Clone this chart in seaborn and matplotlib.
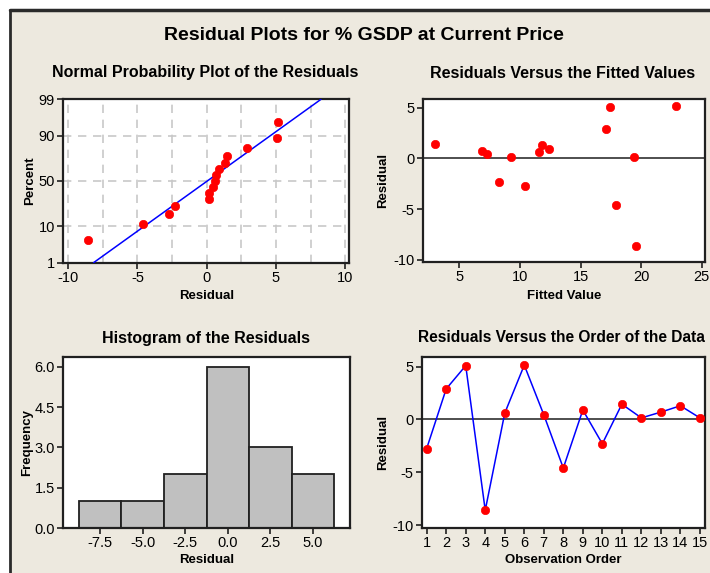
import matplotlib
matplotlib.use("Agg")
import matplotlib.pyplot as plt
import seaborn as sns
import numpy as np
from statistics import NormalDist
from matplotlib.patches import Rectangle
from matplotlib.lines import Line2D

# residuals in observation order, and the fitted value of each observation
obs_order = list(range(1, 16))
residuals = [-2.75, 2.9, 5.1, -8.6, 0.6, 5.15, 0.45, -4.6, 0.9, -2.3, 1.45, 0.15, 0.7, 1.3, 0.15]
fitted = [10.4, 17.1, 17.4, 19.6, 11.6, 22.9, 7.25, 17.95, 12.4, 8.3, 3.0, 9.3, 6.85, 11.8, 19.4]

prob_ticks = [1, 10, 50, 90, 99]
hist_edges = [-8.75, -6.25, -3.75, -1.25, 1.25, 3.75, 6.25]
hist_ticks = [-7.5, -5.0, -2.5, 0.0, 2.5, 5.0]
freq_ticks = [0.0, 1.5, 3.0, 4.5, 6.0]

BG = "#EDE9DF"
FONT = ["Liberation Sans", "DejaVu Sans"]

sns.set_style("white")
plt.rcParams["font.family"] = FONT
plt.rcParams["axes.unicode_minus"] = False
plt.rcParams["text.color"] = "black"
plt.rcParams["axes.labelcolor"] = "black"
plt.rcParams["axes.edgecolor"] = "#202020"
plt.rcParams["axes.linewidth"] = 1.6
plt.rcParams["xtick.major.size"] = 4
plt.rcParams["ytick.major.size"] = 4
plt.rcParams["xtick.major.width"] = 1.2
plt.rcParams["ytick.major.width"] = 1.2
plt.rcParams["xtick.direction"] = "out"
plt.rcParams["ytick.direction"] = "out"
plt.rcParams["xtick.bottom"] = True
plt.rcParams["ytick.left"] = True

W, H = 710, 573
fig = plt.figure(figsize=(W / 100, H / 100), dpi=100)
fig.patch.set_facecolor("white")

# beige graph window with dark top/left border
fig.patches.append(Rectangle((9.5 / W, 0), 1, 1 - 9.5 / H, transform=fig.transFigure,
                             facecolor=BG, edgecolor="none", zorder=-10))
fig.lines.append(Line2D([9.5 / W, 1], [1 - 9.5 / H, 1 - 9.5 / H], transform=fig.transFigure,
                        color="#2a2a2a", lw=2.5))
fig.lines.append(Line2D([9.5 / W, 9.5 / W], [0, 1 - 9.5 / H], transform=fig.transFigure,
                        color="#2a2a2a", lw=2))


def px_axes(left, top, right, bottom):
    return fig.add_axes([left / W, 1 - bottom / H, (right - left) / W, (bottom - top) / H])


def style(ax):
    ax.set_facecolor("white")
    for s in ax.spines.values():
        s.set_visible(True)
        s.set_color("#202020")
    ax.tick_params(labelsize=10.5, pad=2, colors="#202020", labelcolor="black")


def ftitle(x, y, txt, size=11.5):
    fig.text(x / W, 1 - y / H, txt, ha="center", va="center", fontsize=size,
             fontweight="bold", family=FONT)


def labels(ax, xl, yl, xpos, ypos):
    ax.set_xlabel(xl, fontsize=9.5, fontweight="bold")
    ax.set_ylabel(yl, fontsize=9.5, fontweight="bold")
    ax.xaxis.label.set_va("center")
    ax.yaxis.label.set_va("center")
    ax.xaxis.set_label_coords(0.5, xpos)
    ax.yaxis.set_label_coords(ypos, 0.5)


dot_kw = dict(color="red", s=36, edgecolor="red", linewidth=0.5, zorder=5)

# --- Normal probability plot ---
ax1 = px_axes(63.3, 99.3, 349.3, 262.7)
style(ax1)
nd = NormalDist()
n = len(residuals)
sorted_res = np.sort(residuals)
z = [nd.inv_cdf((i - 0.3) / (n + 0.4)) for i in range(1, n + 1)]
mu, sd = np.mean(residuals), np.std(residuals, ddof=1)
zlo, zhi = nd.inv_cdf(0.01), nd.inv_cdf(0.99)
zline = np.linspace(zlo, zhi, 50)
for xv in np.arange(-10, 10.1, 2.5):
    ax1.axvline(xv, color="#c8c8c8", lw=1.2, ls=(0, (5, 4)), zorder=0)
for p in prob_ticks:
    ax1.axhline(nd.inv_cdf(p / 100), color="#c8c8c8", lw=1.2, ls=(0, (5, 4)), zorder=0)
sns.lineplot(x=mu + sd * zline, y=zline, ax=ax1, color="blue", lw=1.1, sort=False, zorder=3)
sns.scatterplot(x=sorted_res, y=z, ax=ax1, **dot_kw)
ax1.set_xlim(-10.36, 10.3)
ax1.set_ylim(zlo, zhi)
ax1.set_xticks([-10, -5, 0, 5, 10])
ax1.set_yticks([nd.inv_cdf(p / 100) for p in prob_ticks])
ax1.set_yticklabels([str(p) for p in prob_ticks])
labels(ax1, "Residual", "Percent", -0.205, -0.116)

# --- Residuals vs fits ---
ax2 = px_axes(423, 99, 705, 262)
style(ax2)
ax2.axhline(0, color="#404040", lw=1.3, zorder=1)
sns.scatterplot(x=fitted, y=residuals, ax=ax2, **dot_kw)
ax2.set_xlim(2.0, 25.27)
ax2.set_ylim(-10.2, 5.86)
ax2.set_xticks([5, 10, 15, 20, 25])
ax2.set_yticks([-10, -5, 0, 5])
labels(ax2, "Fitted Value", "Residual", -0.21, -0.142)

# --- Histogram ---
ax3 = px_axes(63, 357, 350, 528)
style(ax3)
sns.histplot(x=residuals, bins=hist_edges, ax=ax3, color="#C0C0C0", alpha=1,
             edgecolor="#202020", linewidth=1.3)
ax3.set_xlim(-9.67, 7.17)
ax3.set_ylim(0, 6.37)
ax3.set_xticks(hist_ticks)
ax3.set_xticklabels([f"{t:.1f}" for t in hist_ticks])
ax3.set_yticks(freq_ticks)
ax3.set_yticklabels([f"{t:.1f}" for t in freq_ticks])
labels(ax3, "Residual", "Frequency", -0.187, -0.125)

# --- Residuals vs order ---
ax4 = px_axes(422, 357, 705, 528)
style(ax4)
ax4.axhline(0, color="#404040", lw=1.3, zorder=1)
sns.lineplot(x=obs_order, y=residuals, ax=ax4, color="blue", lw=1.1, zorder=3)
sns.scatterplot(x=obs_order, y=residuals, ax=ax4, **dot_kw)
ax4.set_xlim(0.76, 15.26)
ax4.set_ylim(-10.28, 5.92)
ax4.set_xticks(obs_order)
ax4.set_yticks([-10, -5, 0, 5])
labels(ax4, "Observation Order", "Residual", -0.187, -0.138)

# titles
ftitle(364, 35, "Residual Plots for % GSDP at Current Price", size=14)
ftitle(205, 73, "Normal Probability Plot of the Residuals")
ftitle(563, 73, "Residuals Versus the Fitted Values")
ftitle(206, 338, "Histogram of the Residuals")
ftitle(561, 338, "Residuals Versus the Order of the Data", size=11.2)

fig.savefig("out.png", dpi=100, facecolor=fig.get_facecolor())
